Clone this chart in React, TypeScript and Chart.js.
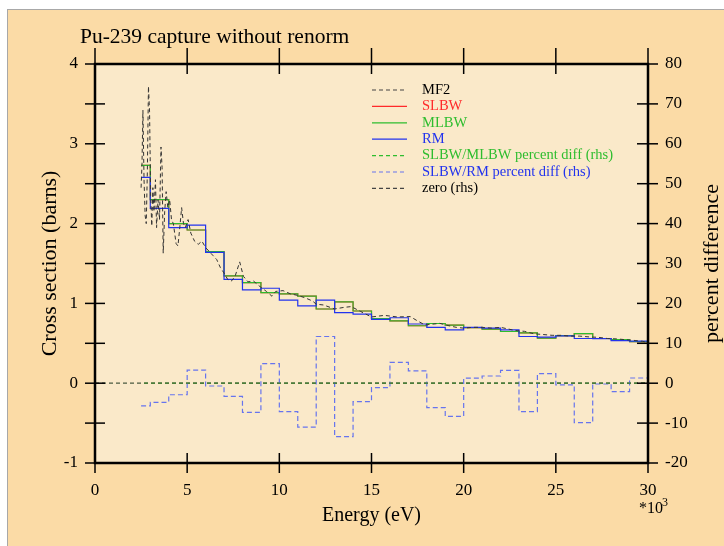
import React, { useEffect, useRef } from 'react';
import { Chart, registerables } from 'chart.js';
Chart.register(...registerables);

// ---- data ----
const binEdges = [2.5, 3, 4, 5, 6, 7, 8, 9, 10, 11, 12, 13, 14, 15, 16, 17, 18, 19, 20, 21, 22, 23, 24, 25, 26, 27, 28, 29, 30];
const slbw = [2.73, 2.30, 2.00, 1.92, 1.65, 1.345, 1.26, 1.135, 1.12, 1.09, 0.93, 1.02, 0.905, 0.81, 0.78, 0.72, 0.748, 0.727, 0.695, 0.677, 0.648, 0.63, 0.565, 0.595, 0.62, 0.56, 0.545, 0.52];
const mlbw = [2.73, 2.30, 2.00, 1.92, 1.65, 1.345, 1.26, 1.135, 1.12, 1.09, 0.93, 1.02, 0.905, 0.81, 0.78, 0.72, 0.748, 0.727, 0.695, 0.677, 0.648, 0.63, 0.565, 0.595, 0.62, 0.56, 0.545, 0.52];
const rm = [2.58, 2.19, 1.95, 1.98, 1.64, 1.30, 1.17, 1.19, 1.04, 0.97, 1.04, 0.885, 0.865, 0.80, 0.82, 0.742, 0.70, 0.667, 0.70, 0.69, 0.668, 0.585, 0.578, 0.593, 0.56, 0.559, 0.534, 0.527];
const pdSlbwMlbw = [0, 0, 0, 0, 0, 0, 0, 0, 0, 0, 0, 0, 0, 0, 0, 0, 0, 0, 0, 0, 0, 0, 0, 0, 0, 0, 0, 0];
const pdSlbwRm = [-5.7, -4.8, -2.9, 3.3, -0.7, -3.3, -7.3, 4.9, -7.1, -11.0, 11.7, -13.4, -4.6, -1.1, 5.2, 3.1, -6.1, -8.3, 1.25, 1.8, 3.2, -7.1, 2.4, -0.4, -9.9, -0.2, -2.1, 1.3];
const mf2Energy = [2.50, 2.55, 2.60, 2.66, 2.72, 2.78, 2.84, 2.90, 2.96, 3.02, 3.08, 3.14, 3.20, 3.28, 3.34, 3.42, 3.50, 3.58, 3.64, 3.70, 3.78, 3.86, 3.95, 4.05, 4.15, 4.25, 4.40, 4.50, 4.60, 4.70, 4.80, 4.90, 5.05, 5.20, 5.40, 5.60, 5.80, 6.00, 6.20, 6.40, 6.60, 6.80, 7.00, 7.20, 7.40, 7.60, 7.85, 8.05, 8.30, 8.60, 8.90, 9.30, 9.60, 9.80, 10.2, 10.6, 11.0, 11.4, 11.8, 12.0, 12.4, 13.0, 13.5, 13.9, 14.4, 15.0, 15.7, 16.4, 17.1, 17.5, 17.9, 18.3, 18.7, 19.2, 19.6, 20.0, 20.5, 21.0, 21.5, 22.0, 22.4, 22.8, 23.3, 23.8, 24.3, 24.8, 25.3, 25.8, 26.3, 26.8, 27.3, 27.8, 28.3, 28.8, 29.3, 29.7, 30.0];
const mf2Xs = [2.45, 2.75, 3.42, 2.55, 2.10, 2.00, 2.65, 3.72, 3.40, 2.35, 1.97, 2.45, 2.15, 2.55, 1.95, 2.30, 2.05, 2.96, 2.70, 1.63, 2.15, 2.40, 2.20, 2.30, 2.05, 2.00, 1.75, 1.72, 1.95, 2.20, 2.00, 1.95, 2.05, 1.88, 1.78, 1.74, 1.78, 1.70, 1.65, 1.60, 1.55, 1.45, 1.38, 1.30, 1.28, 1.34, 1.52, 1.34, 1.27, 1.28, 1.22, 1.15, 1.09, 1.15, 1.16, 1.12, 1.10, 1.07, 1.03, 0.99, 0.98, 0.93, 0.95, 0.96, 0.90, 0.83, 0.85, 0.83, 0.835, 0.78, 0.73, 0.74, 0.75, 0.72, 0.70, 0.69, 0.70, 0.70, 0.69, 0.70, 0.68, 0.66, 0.65, 0.62, 0.61, 0.60, 0.60, 0.59, 0.59, 0.58, 0.575, 0.56, 0.555, 0.545, 0.535, 0.525, 0.51];
const zeroEnergy = [0, 30];
const zeroValues = [0, 0];
const legendLabels = ['MF2', 'SLBW', 'MLBW', 'RM', 'SLBW/MLBW percent diff (rhs)', 'SLBW/RM percent diff (rhs)', 'zero (rhs)'];

const SERIF = '"Liberation Serif", "Times New Roman", serif';
const C_RED = '#ff2a2a';
const C_GREEN = '#2ebd2e';
const C_BLUE = '#2233ee';
const C_BLUE_D = '#6674ee';
const C_BLACK = '#333333';

const stepPts = (vals: number[]) => binEdges.map((e, i) => ({ x: e, y: vals[Math.min(i, vals.length - 1)] }));
const pairPts = (xs: number[], ys: number[]) => xs.map((x, i) => ({ x, y: ys[i] }));

const legendStyles = [
  { color: '#444', dash: [4, 3], text: '#000' },
  { color: C_RED, dash: [], text: C_RED },
  { color: C_GREEN, dash: [], text: C_GREEN },
  { color: C_BLUE, dash: [], text: C_BLUE },
  { color: C_GREEN, dash: [4, 3], text: C_GREEN },
  { color: C_BLUE_D, dash: [4, 3], text: C_BLUE },
  { color: '#444', dash: [4, 3], text: '#000' },
];

const framePlugin = {
  id: 'framePlugin',
  beforeDraw(chart: any) {
    const { ctx, chartArea: a } = chart;
    ctx.save();
    ctx.fillStyle = '#fae9c9';
    ctx.fillRect(a.left, a.top, a.right - a.left, a.bottom - a.top);
    ctx.restore();
  },
  afterDatasetsDraw(chart: any) {
    const { ctx, chartArea: a, scales } = chart;
    ctx.save();
    ctx.strokeStyle = '#000';
    ctx.lineWidth = 1.5;
    ctx.setLineDash([]);
    scales.y.ticks.forEach((t: any) => {
      const p = scales.y.getPixelForValue(t.value);
      ctx.beginPath(); ctx.moveTo(a.left - 10, p); ctx.lineTo(a.left + 10, p); ctx.stroke();
    });
    scales.y1.ticks.forEach((t: any) => {
      const p = scales.y1.getPixelForValue(t.value);
      ctx.beginPath(); ctx.moveTo(a.right - 11, p); ctx.lineTo(a.right + 10, p); ctx.stroke();
    });
    scales.x.ticks.forEach((t: any) => {
      const p = scales.x.getPixelForValue(t.value);
      ctx.beginPath(); ctx.moveTo(p, a.top - 16); ctx.lineTo(p, a.top + 10); ctx.stroke();
      ctx.beginPath(); ctx.moveTo(p, a.bottom - 10); ctx.lineTo(p, a.bottom + 10); ctx.stroke();
    });
    ctx.lineWidth = 2.5;
    ctx.strokeRect(a.left, a.top, a.right - a.left, a.bottom - a.top);

    // legend
    const lx0 = a.left + 277, lx1 = a.left + 312, tx = a.left + 327;
    const ly0 = a.top + 26, dy = 16.4;
    ctx.font = `14.5px ${SERIF}`;
    ctx.textBaseline = 'middle';
    ctx.textAlign = 'left';
    legendLabels.forEach((lab, i) => {
      const st = legendStyles[i];
      const y = ly0 + i * dy;
      ctx.strokeStyle = st.color;
      ctx.lineWidth = 1.2;
      ctx.setLineDash(st.dash);
      ctx.beginPath(); ctx.moveTo(lx0, y); ctx.lineTo(lx1, y); ctx.stroke();
      ctx.fillStyle = st.text;
      ctx.fillText(lab, tx, y);
    });
    ctx.setLineDash([]);

    // titles
    ctx.fillStyle = '#000';
    ctx.font = `21.5px ${SERIF}`;
    ctx.textAlign = 'left';
    ctx.fillText('Pu-239 capture without renorm', 80, 37);
    ctx.font = `20px ${SERIF}`;
    ctx.textAlign = 'center';
    ctx.fillText('Energy (eV)', (a.left + a.right) / 2, 516);
    ctx.font = `22px ${SERIF}`;
    ctx.save();
    ctx.translate(50, (a.top + a.bottom) / 2);
    ctx.rotate(-Math.PI / 2);
    ctx.fillText('Cross section (barns)', 0, 0);
    ctx.restore();
    ctx.save();
    ctx.translate(712, (a.top + a.bottom) / 2);
    ctx.rotate(-Math.PI / 2);
    ctx.fillText('percent difference', 0, 0);
    ctx.restore();
    ctx.font = `16px ${SERIF}`;
    ctx.textAlign = 'left';
    ctx.fillText('*10', 639, 509);
    ctx.font = `12px ${SERIF}`;
    ctx.fillText('3', 662, 503);
    ctx.restore();
  },
};

export default function App() {
  const ref = useRef<HTMLCanvasElement>(null);
  useEffect(() => {
    if (!ref.current) return;
    const tickFont = { family: SERIF, size: 17 };
    const chart = new Chart(ref.current, {
      type: 'line',
      data: {
        datasets: [
          { label: 'MF2', data: pairPts(mf2Energy, mf2Xs), borderColor: C_BLACK, borderWidth: 1, borderDash: [4, 3], pointRadius: 0, yAxisID: 'y', order: 3 },
          { label: 'SLBW', data: stepPts(slbw), stepped: 'before', borderColor: C_RED, borderWidth: 1.2, pointRadius: 0, yAxisID: 'y', order: 7 },
          { label: 'MLBW', data: stepPts(mlbw), stepped: 'before', borderColor: C_GREEN, borderWidth: 1.2, pointRadius: 0, yAxisID: 'y', order: 6 },
          { label: 'RM', data: stepPts(rm), stepped: 'before', borderColor: C_BLUE, borderWidth: 1.2, pointRadius: 0, yAxisID: 'y', order: 5 },
          { label: 'SLBW/MLBW percent diff (rhs)', data: stepPts(pdSlbwMlbw), stepped: 'before', borderColor: '#3d7d2c', borderWidth: 1.2, borderDash: [4, 3], borderDashOffset: 4.07, pointRadius: 0, yAxisID: 'y1', order: 1 },
          { label: 'SLBW/RM percent diff (rhs)', data: stepPts(pdSlbwRm), stepped: 'before', borderColor: C_BLUE_D, borderWidth: 1.2, borderDash: [5, 3], pointRadius: 0, yAxisID: 'y1', order: 2 },
          { label: 'zero (rhs)', data: pairPts(zeroEnergy, zeroValues), borderColor: '#4a5a40', borderWidth: 1.2, borderDash: [4, 3], pointRadius: 0, yAxisID: 'y1', order: 4 },
        ],
      },
      options: {
        animation: false,
        responsive: false,
        devicePixelRatio: 1,
        layout: { padding: { top: 64, left: 0, right: 0, bottom: 0 } },
        plugins: { legend: { display: false }, tooltip: { enabled: false }, title: { display: false } },
        elements: { line: { tension: 0 } },
        scales: {
          x: {
            type: 'linear', min: 0, max: 30,
            afterFit: (s: any) => { s.height = 83; },
            grid: { display: false, drawTicks: false },
            border: { display: false },
            ticks: { stepSize: 5, padding: 17, color: '#000', font: tickFont, maxRotation: 0, autoSkip: false, callback: (v: any) => String(v) },
          },
          y: {
            position: 'left', min: -1, max: 4,
            afterFit: (s: any) => { s.width = 95; },
            grid: { display: false, drawTicks: false },
            border: { display: false },
            ticks: { stepSize: 0.5, padding: 17, color: '#000', font: tickFont, autoSkip: false, callback: (v: any) => (Number.isInteger(v) ? String(v) : '') },
          },
          y1: {
            position: 'right', min: -20, max: 80,
            afterFit: (s: any) => { s.width = 76; },
            grid: { display: false, drawTicks: false },
            border: { display: false },
            ticks: { stepSize: 10, padding: 17, color: '#000', font: tickFont, autoSkip: false, callback: (v: any) => String(v) },
          },
        },
      },
      plugins: [framePlugin],
    } as any);
    return () => chart.destroy();
  }, []);
  return (
    <div style={{ position: 'absolute', left: 0, top: 0, width: 724, height: 546, overflow: 'hidden', background: '#ffffff' }}>
      <div style={{ position: 'absolute', left: 7, top: 9, width: 740, height: 560, background: '#fbdba6', border: '1px solid #a8a8a8' }} />
      <canvas ref={ref} width={724} height={546} style={{ position: 'absolute', left: 0, top: 0, width: 724, height: 546 }} />
    </div>
  );
}
